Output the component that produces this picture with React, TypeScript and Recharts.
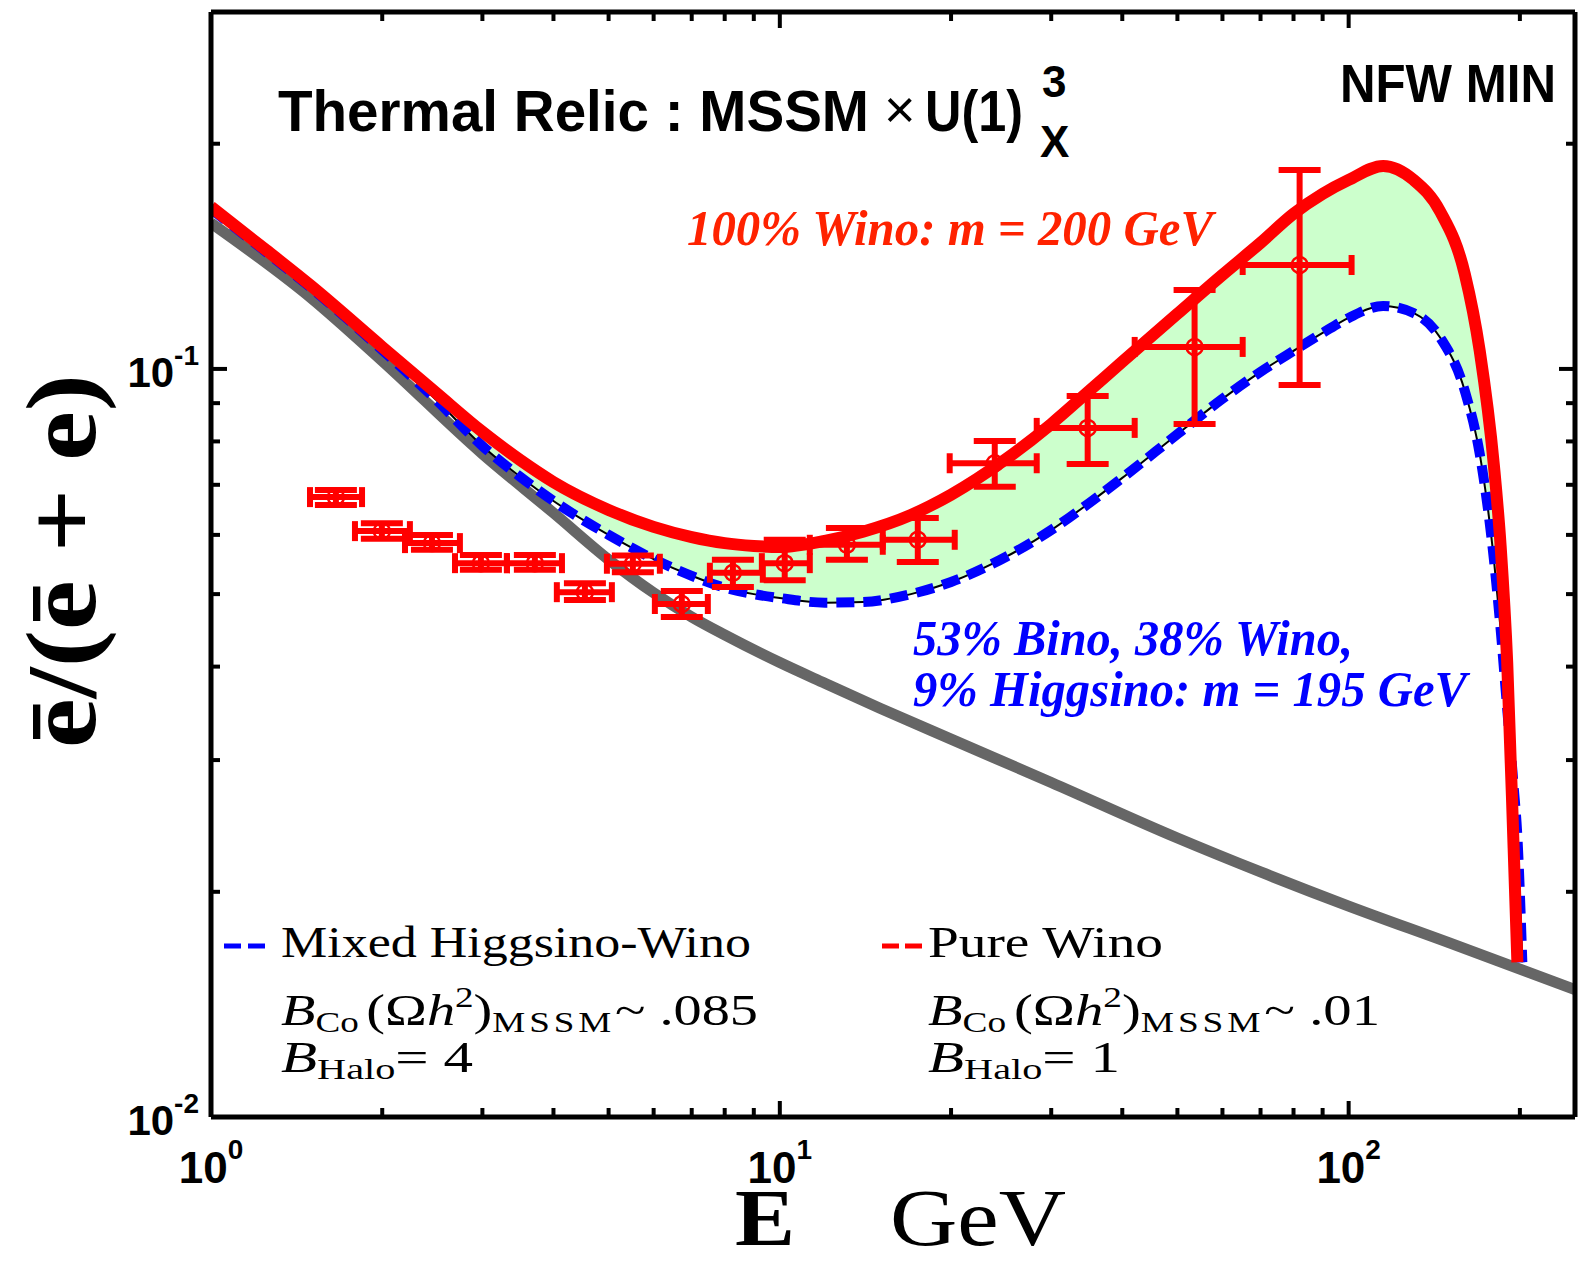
import React from 'react';
import { ComposedChart, Line, Area, Scatter, ErrorBar, XAxis, YAxis } from 'recharts';

// energy grid (GeV) shared by the two model curves
const energyGrid = [1, 1.25, 1.5, 2, 2.5, 3, 3.5, 4, 5, 6, 7, 8, 9, 10, 12, 14, 17, 20, 25, 30, 35, 40, 50, 60, 70, 80, 90, 100, 115, 130, 145, 160, 170, 180, 185, 190, 195, 198, 202];
const pureWino = [0.1647, 0.1442, 0.1291, 0.107, 0.0926, 0.0824, 0.0755, 0.0706, 0.0648, 0.0615, 0.0596, 0.0585, 0.058, 0.0578, 0.0589, 0.0606, 0.0638, 0.0679, 0.0758, 0.0844, 0.0935, 0.1022, 0.1185, 0.1336, 0.1474, 0.1612, 0.1714, 0.1789, 0.1868, 0.179, 0.1621, 0.134, 0.1057, 0.0744, 0.058, 0.0405, 0.0229, 0.0161, null];
const mixedWino = [0.1636, 0.1433, 0.1283, 0.106, 0.0906, 0.0789, 0.0717, 0.0666, 0.06, 0.0557, 0.0529, 0.051, 0.05, 0.0494, 0.0487, 0.0488, 0.05, 0.0519, 0.0561, 0.0609, 0.0662, 0.0715, 0.0818, 0.0912, 0.0991, 0.1057, 0.1117, 0.117, 0.1214, 0.1188, 0.11, 0.0935, 0.077, 0.0557, 0.0449, 0.0351, 0.0277, 0.0237, 0.0161];

// background (no dark matter)
const bgEnergy = [1, 1.5, 2, 3, 4, 5, 6, 7, 8, 10, 12, 15, 20, 30, 50, 70, 100, 150, 250];
const bgRatio = [0.1567, 0.1244, 0.1025, 0.077, 0.0642, 0.0556, 0.0502, 0.0466, 0.0441, 0.0405, 0.038, 0.0352, 0.032, 0.028, 0.0236, 0.02126, 0.01914, 0.0171, 0.0148];

// measured positron fraction
const dataE = [1.658, 1.997, 2.446, 2.982, 3.71, 4.543, 5.516, 6.725, 8.27, 10.2, 13.12, 17.48, 23.87, 34.77, 53.6, 82.0];
const dataELow = [1.493, 1.791, 2.193, 2.685, 3.313, 4.055, 4.966, 6.03, 7.534, 9.298, 11.29, 15.17, 19.89, 28.29, 42.06, 65.12];
const dataEHigh = [1.843, 2.237, 2.739, 3.313, 4.14, 5.067, 6.153, 7.472, 9.335, 11.29, 15.17, 20.3, 28.29, 42.06, 65.12, 101.2];
const ratio = [0.0674, 0.0607, 0.0585, 0.055, 0.055, 0.0503, 0.0549, 0.0485, 0.0534, 0.055, 0.0582, 0.0591, 0.0748, 0.0834, 0.107, 0.1377];
const ratioLow = [0.0658, 0.0593, 0.0573, 0.0539, 0.0539, 0.0491, 0.0535, 0.0466, 0.0511, 0.0522, 0.0556, 0.0552, 0.0696, 0.0746, 0.0844, 0.0952];
const ratioHigh = [0.0689, 0.0622, 0.06, 0.0564, 0.0564, 0.0517, 0.0563, 0.0505, 0.0556, 0.0591, 0.0613, 0.0632, 0.0801, 0.092, 0.1275, 0.1845];

const xTicks = [1, 2, 3, 4, 5, 6, 7, 8, 9, 10, 20, 30, 40, 50, 60, 70, 80, 90, 100, 200];
const yTicks = [0.01, 0.02, 0.03, 0.04, 0.05, 0.06, 0.07, 0.08, 0.09, 0.1, 0.2];

const SANS = '"Liberation Sans", Arial, Helvetica, sans-serif';
const SERIF = '"Liberation Serif", "Times New Roman", serif';
const RED = '#ff0000';
const BLUE = '#0000ff';

const curveData = energyGrid.map((x, i) => ({
  x,
  red: pureWino[i],
  blue: mixedWino[i],
  band: pureWino[i] != null ? [mixedWino[i], pureWino[i]] : null,
}));
const bgData = bgEnergy.map((x, i) => ({ x, bg: bgRatio[i] }));
const pointData = dataE.map((x, i) => ({
  x,
  y: ratio[i],
  ex: [x - dataELow[i], dataEHigh[i] - x],
  ey: [ratio[i] - ratioLow[i], ratioHigh[i] - ratio[i]],
}));

const isMajor = (v: number) => Math.abs(Math.log10(v) - Math.round(Math.log10(v))) < 1e-6;
const expOf = (v: number) => Math.round(Math.log10(v));

function BottomTick(p: any) {
  const { x, y, payload } = p;
  const major = isMajor(payload.value);
  return (
    <g>
      <line x1={x} x2={x} y1={y} y2={y - (major ? 16 : 9)} stroke="#000" strokeWidth={4} />
      {major && (
        <text x={x} y={y + 66} textAnchor="middle" fontFamily={SANS} fontWeight="bold" fontSize={44}>
          10<tspan dy={-24} fontSize={28}>{expOf(payload.value)}</tspan>
        </text>
      )}
    </g>
  );
}

function TopTick(p: any) {
  const { x, y, payload } = p;
  const major = isMajor(payload.value);
  return <line x1={x} x2={x} y1={y} y2={y + (major ? 16 : 9)} stroke="#000" strokeWidth={4} />;
}

function LeftTick(p: any) {
  const { x, y, payload } = p;
  const major = isMajor(payload.value);
  return (
    <g>
      <line x1={x} x2={x + (major ? 16 : 9)} y1={y} y2={y} stroke="#000" strokeWidth={4} />
      {major && (
        <text x={199} y={y + 18} textAnchor="end" fontFamily={SANS} fontWeight="bold" fontSize={42}>
          10<tspan dy={-22} fontSize={28}>{expOf(payload.value)}</tspan>
        </text>
      )}
    </g>
  );
}

function RightTick(p: any) {
  const { x, y, payload } = p;
  const major = isMajor(payload.value);
  return <line x1={x} x2={x - (major ? 16 : 9)} y1={y} y2={y} stroke="#000" strokeWidth={4} />;
}

function Circle(p: any) {
  return <circle cx={p.cx} cy={p.cy} r={8} fill="none" stroke={RED} strokeWidth={2.5} />;
}

function BCo({ x, y, v, len }: { x: number; y: number; v: string; len: number }) {
  return (
    <text x={x} y={y} fontFamily={SERIF} fontSize={44} textLength={len} lengthAdjust="spacingAndGlyphs">
      <tspan fontStyle="italic">B</tspan>
      <tspan fontSize={29} dy={7}>Co</tspan>
      <tspan dy={-7} dx={6}>(Ω</tspan>
      <tspan fontStyle="italic">h</tspan>
      <tspan fontSize={29} dy={-18}>2</tspan>
      <tspan dy={18}>)</tspan>
      <tspan fontSize={29} dy={7} letterSpacing={3}>MSSM</tspan>
      <tspan dy={-7}>~ {v}</tspan>
    </text>
  );
}

function BHalo({ x, y, v }: { x: number; y: number; v: string }) {
  return (
    <text x={x} y={y} fontFamily={SERIF} fontSize={44} textLength={192} lengthAdjust="spacingAndGlyphs">
      <tspan fontStyle="italic">B</tspan>
      <tspan fontSize={30} dy={7}>Halo</tspan>
      <tspan dy={-7}>= {v}</tspan>
    </text>
  );
}

function Labels() {
  return (
    <svg width={1585} height={1264} style={{ position: 'absolute', left: 0, top: 0, pointerEvents: 'none' }}>
      <text x={278} y={131} fontFamily={SANS} fontWeight="bold" fontSize={58} textLength={591} lengthAdjust="spacingAndGlyphs">
        Thermal Relic : MSSM
      </text>
      <text x={884} y={128} fontFamily={SANS} fontSize={54}>×</text>
      <text x={925} y={131} fontFamily={SANS} fontWeight="bold" fontSize={58} textLength={98} lengthAdjust="spacingAndGlyphs">
        U(1)
      </text>
      <text x={1042} y={97} fontFamily={SANS} fontWeight="bold" fontSize={44}>3</text>
      <text x={1040} y={157} fontFamily={SANS} fontWeight="bold" fontSize={44}>X</text>
      <text x={1340} y={102} fontFamily={SANS} fontWeight="bold" fontSize={53} textLength={216} lengthAdjust="spacingAndGlyphs">
        NFW MIN
      </text>

      <text x={687} y={245} fontFamily={SERIF} fontWeight="bold" fontStyle="italic" fontSize={50} fill="#ff2200" textLength={526} lengthAdjust="spacingAndGlyphs">
        100% Wino: m = 200 GeV
      </text>
      <text x={913} y={655} fontFamily={SERIF} fontWeight="bold" fontStyle="italic" fontSize={50} fill={BLUE} textLength={440} lengthAdjust="spacingAndGlyphs">
        53% Bino, 38% Wino,
      </text>
      <text x={913} y={706} fontFamily={SERIF} fontWeight="bold" fontStyle="italic" fontSize={50} fill={BLUE} textLength={554} lengthAdjust="spacingAndGlyphs">
        9% Higgsino: m = 195 GeV
      </text>

      <line x1={224} x2={265} y1={946} y2={946} stroke={BLUE} strokeWidth={5} strokeDasharray="17 7" />
      <text x={281} y={957} fontFamily={SERIF} fontSize={44} textLength={470} lengthAdjust="spacingAndGlyphs">Mixed Higgsino-Wino</text>
      <line x1={882} x2={922} y1={946} y2={946} stroke={RED} strokeWidth={5} strokeDasharray="17 6" />
      <text x={928} y={957} fontFamily={SERIF} fontSize={44} textLength={235} lengthAdjust="spacingAndGlyphs">Pure Wino</text>
      <BCo x={281} y={1025} v=".085" len={477} />
      <BHalo x={281} y={1072} v="4" />
      <BCo x={928} y={1025} v=".01" len={452} />
      <BHalo x={928} y={1072} v="1" />

      <text x={735} y={1245} fontFamily={SERIF} fontWeight="bold" fontSize={80} textLength={60} lengthAdjust="spacingAndGlyphs">E</text>
      <text x={890} y={1245} fontFamily={SERIF} fontSize={80} textLength={176} lengthAdjust="spacingAndGlyphs">GeV</text>
      <text transform="translate(95,561) rotate(-90)" textAnchor="middle" fontFamily={SERIF} fontWeight="bold" fontSize={100} textLength={374} lengthAdjust="spacingAndGlyphs">
        ē/(ē + e)
      </text>
    </svg>
  );
}

export default function App() {
  const axisLine = { stroke: '#000', strokeWidth: 5 };
  return (
    <div style={{ position: 'absolute', left: 0, top: 0, width: 1585, height: 1264, background: '#fff' }}>
      <ComposedChart width={1585} height={1264} margin={{ top: 11, right: 9, bottom: 0, left: 0 }}>
        <XAxis dataKey="x" type="number" scale="log" domain={[1, 250]} allowDataOverflow ticks={xTicks} interval={0}
          height={147} tickSize={0} tickMargin={0} tickLine={false} axisLine={axisLine} tick={BottomTick} />
        <XAxis xAxisId="top" orientation="top" dataKey="x" type="number" scale="log" domain={[1, 250]} allowDataOverflow
          ticks={xTicks} interval={0} height={1} tickSize={0} tickMargin={0} tickLine={false} axisLine={axisLine} tick={TopTick} />
        <YAxis type="number" scale="log" domain={[0.01, 0.3]} allowDataOverflow ticks={yTicks} interval={0}
          width={211} tickSize={0} tickMargin={0} tickLine={false} axisLine={axisLine} tick={LeftTick} />
        <YAxis yAxisId="right" orientation="right" type="number" scale="log" domain={[0.01, 0.3]} allowDataOverflow
          ticks={yTicks} interval={0} width={1} tickSize={0} tickMargin={0} tickLine={false} axisLine={axisLine} tick={RightTick} />

        <Area data={curveData} dataKey="band" type="monotone" fill="#ccffcc" fillOpacity={1} stroke="none" isAnimationActive={false} />
        <Line data={bgData} dataKey="bg" type="monotone" stroke="#666666" strokeWidth={11} dot={false} isAnimationActive={false} />
        <Line data={bgData} dataKey="bg" xAxisId="top" yAxisId="right" stroke="none" strokeWidth={0} dot={false} isAnimationActive={false} />
        <Line data={curveData} dataKey="blue" type="monotone" stroke="#000" strokeWidth={2} dot={false} isAnimationActive={false} />
        <Line data={curveData} dataKey="blue" type="monotone" stroke={BLUE} strokeWidth={10} strokeDasharray="18 9" dot={false} isAnimationActive={false} />
        <Line data={curveData} dataKey="red" type="monotone" stroke={RED} strokeWidth={12} dot={false} isAnimationActive={false} />
        <Scatter data={pointData} dataKey="y" shape={Circle} isAnimationActive={false}>
          <ErrorBar dataKey="ey" direction="y" width={21} stroke={RED} strokeWidth={6} />
          <ErrorBar dataKey="ex" direction="x" width={10} stroke={RED} strokeWidth={6} />
        </Scatter>
      </ComposedChart>
      <Labels />
    </div>
  );
}
